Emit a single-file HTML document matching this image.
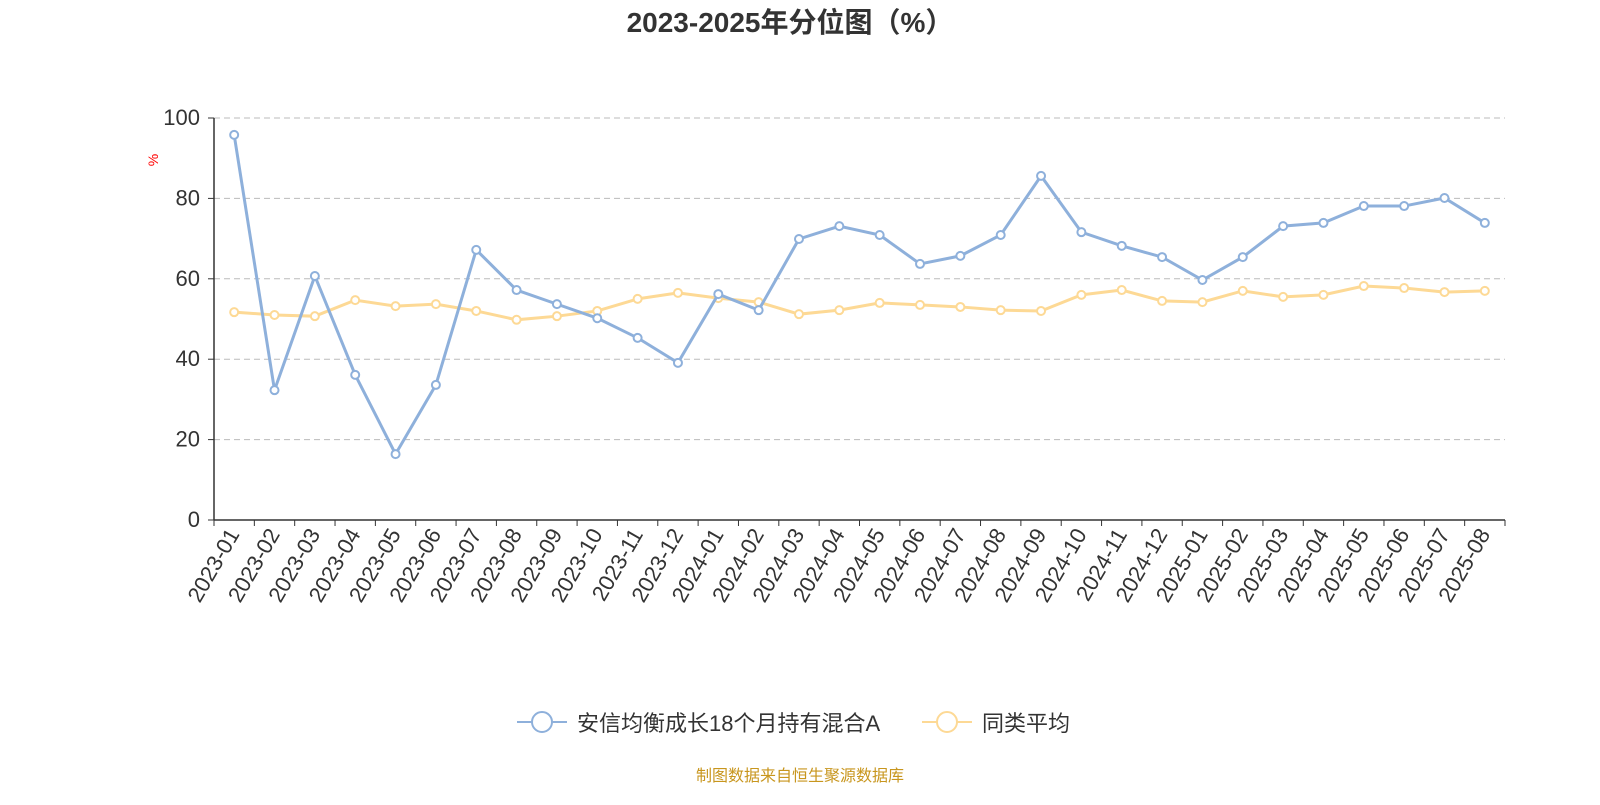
<!DOCTYPE html>
<html><head><meta charset="utf-8">
<style>
body{margin:0;background:#fff;width:1600px;height:800px;overflow:hidden;font-family:"Liberation Sans","Noto Sans CJK SC",sans-serif;}
</style></head>
<body>
<svg id="chart" width="1600" height="800" xmlns="http://www.w3.org/2000/svg" font-family="Liberation Sans, Noto Sans CJK SC, sans-serif">
<text x="790" y="32" text-anchor="middle" font-size="28" font-weight="bold" fill="#333">2023-2025年分位图（%）</text>
<text x="158" y="160" font-size="14" fill="red" transform="rotate(-90 158 160)" text-anchor="middle">%</text>
<g id="grid"></g><g id="axes"></g><g id="series"></g>
<g>
<line x1="517" y1="722" x2="567" y2="722" stroke="#8eb0db" stroke-width="2"/>
<circle cx="542" cy="722" r="10" fill="#fff" stroke="#8eb0db" stroke-width="2"/>
<text x="577" y="731" font-size="22" fill="#333">安信均衡成长18个月持有混合A</text>
<line x1="922" y1="722" x2="972" y2="722" stroke="#fdd995" stroke-width="2"/>
<circle cx="947" cy="722" r="10" fill="#fff" stroke="#fdd995" stroke-width="2"/>
<text x="982" y="731" font-size="22" fill="#333">同类平均</text>
</g>
<text x="800" y="781" text-anchor="middle" font-size="16" fill="#c8961e">制图数据来自恒生聚源数据库</text>
</svg>
<script>
const categories=["2023-01","2023-02","2023-03","2023-04","2023-05","2023-06","2023-07","2023-08","2023-09","2023-10","2023-11","2023-12","2024-01","2024-02","2024-03","2024-04","2024-05","2024-06","2024-07","2024-08","2024-09","2024-10","2024-11","2024-12","2025-01","2025-02","2025-03","2025-04","2025-05","2025-06","2025-07","2025-08"];
const fundValues=[95.8,32.3,60.7,36.1,16.4,33.6,67.2,57.2,53.7,50.2,45.3,39.1,56.2,52.2,69.9,73.1,70.9,63.7,65.7,70.9,85.6,71.6,68.2,65.4,59.7,65.4,73.1,73.9,78.1,78.1,80.1,73.9];
const avgValues=[51.7,51.0,50.7,54.7,53.2,53.7,52.0,49.8,50.7,52.0,55.0,56.5,55.2,54.2,51.2,52.2,54.0,53.5,53.0,52.2,52.0,56.0,57.2,54.5,54.2,57.0,55.5,56.0,58.2,57.7,56.7,57.0];
const yTicks=[0,20,40,60,80,100];
const NS="http://www.w3.org/2000/svg";
const X0=214,X1=1505,Y0=520,Y1=118;
const bw=(X1-X0)/categories.length;
const xs=i=>X0+bw*(i+0.5);
const ys=v=>Y0-(v/100)*(Y0-Y1);
function mk(tag,attrs,parent){const e=document.createElementNS(NS,tag);for(const k in attrs)e.setAttribute(k,attrs[k]);parent.appendChild(e);return e;}
const grid=document.getElementById('grid'),axes=document.getElementById('axes'),series=document.getElementById('series');
yTicks.forEach(t=>{
  if(t>0){const l=mk('line',{x1:X0,x2:X1,y1:ys(t),y2:ys(t),stroke:'#bbb','stroke-dasharray':'6,4'},grid);
  
  }
  const tx=mk('text',{x:X0-14,y:ys(t)+7,'text-anchor':'end','font-size':'22',fill:'#333'},axes);
  tx.textContent=t;
  
  
  mk('line',{x1:X0-6,x2:X0,y1:ys(t),y2:ys(t),stroke:'#333'},axes);
});
const ya=mk('line',{x1:X0,x2:X0,y1:Y1,y2:Y0,stroke:'#333','stroke-width':1.5},axes);


const xa=mk('line',{x1:X0,x2:X1,y1:Y0,y2:Y0,stroke:'#333','stroke-width':1.5},axes);


for(let i=0;i<=categories.length;i++){mk('line',{x1:X0+bw*i,x2:X0+bw*i,y1:Y0,y2:Y0+6,stroke:'#333'},axes);}
categories.forEach((c,i)=>{
  const x=xs(i)+6,y=Y0+14;
  const t=mk('text',{x:x,y:y,'text-anchor':'end','font-size':'22',fill:'#333',transform:`rotate(-60 ${x} ${y})`},axes);
  t.textContent=c;
  
  
});
function drawSeries(vals,color,name){
  const p=mk('polyline',{points:vals.map((v,i)=>xs(i)+','+ys(v)).join(' '),fill:'none',stroke:color,'stroke-width':3},series);
  
  
  vals.forEach((v,i)=>{
    const c=mk('circle',{cx:xs(i),cy:ys(v),r:4,fill:'#fff',stroke:color,'stroke-width':2},series);
    
    
  });
}
drawSeries(avgValues,'#fdd995','average');
drawSeries(fundValues,'#8eb0db','fund');
</script>
</body></html>
